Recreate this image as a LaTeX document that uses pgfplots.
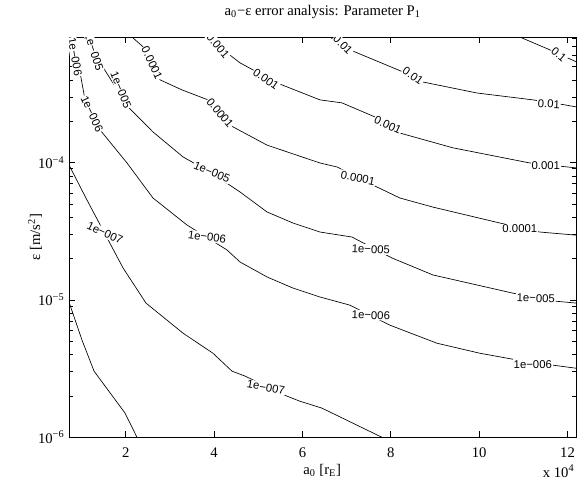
\documentclass[border=0pt]{standalone}
\usepackage{pgfplots}
\pgfplotsset{compat=1.18}
\usepackage{fontspec}
\setmainfont{Liberation Serif}
\newfontfamily\lblfont{Liberation Sans}
\tikzset{lbl/.style={font=\lblfont\fontsize{8.5}{9}\selectfont, fill=white, inner sep=0.6pt}}
\begin{document}
\begin{tikzpicture}
\useasboundingbox (-51.75pt,-33pt) rectangle (383.75pt,327.75pt);
\begin{axis}[
  at={(0,0)}, anchor=south west,
  scale only axis, width=380.25pt, height=300pt,
  xmin=0.717, xmax=12.2, ymin=1e-6, ymax=8.2e-4,
  ymode=log,
  xtick={2,4,6,8,10,12}, xticklabels={2,4,6,8,10,12},
  ytick={1e-6,1e-5,1e-4},
  yticklabels={10\textsuperscript{−6},10\textsuperscript{−5},10\textsuperscript{−4}},
  minor ytick={2e-6,3e-6,4e-6,5e-6,6e-6,7e-6,8e-6,9e-6,2e-5,3e-5,4e-5,5e-5,6e-5,7e-5,8e-5,9e-5,2e-4,3e-4,4e-4,5e-4,6e-4,7e-4,8e-4},
  tick align=inside,
  major tick length=4.5pt, minor tick length=3pt,
  axis line style={line width=0.6pt},
  every tick/.style={black, line width=0.5pt},
  tick label style={font=\fontsize{11}{13}\selectfont},
  xticklabel style={yshift=-4.5pt},
  xlabel={a\textsubscript{0} [r\textsubscript{E}]},
  xlabel style={font=\fontsize{11}{13}\selectfont, at={(axis description cs:0.499,-0.083)}, anchor=center},
  ylabel={ε [m/s\textsuperscript{2}]},
  ylabel style={font=\fontsize{11}{13}\selectfont, at={(axis description cs:-0.067,0.5)}, anchor=center},
  every axis title shift=0pt,
  title={a\textsubscript{0}−ε error analysis: Parameter P\textsubscript{1}},
  title style={font=\fontsize{11}{13}\selectfont, at={(axis description cs:0.5,1.062)}, anchor=center},
  extra description/.code={\node[font=\fontsize{11}{13}\selectfont, anchor=center] at (0.965,-0.085) {x 10\textsuperscript{4}};},
]
% 1e-8 (unlabelled)
\addplot[black, line width=0.5pt] coordinates {(0.717,9.64e-6) (1.011,5.09e-6) (1.283,3.03e-6) (1.984,1.50e-6) (2.255,1e-6)};
% 1e-7
\addplot[black, line width=0.5pt] coordinates {(0.717,9.59e-5) (1.124,5.33e-5) (1.939,1.71e-5) (2.459,9.48e-6) (3.296,5.73e-6) (3.975,4.09e-6) (4.405,3.03e-6) (4.699,2.79e-6) (5.604,2.02e-6) (5.943,1.83e-6) (6.441,1.63e-6) (7.798,1e-6)};
% 1e-6
\addplot[black, line width=0.5pt] coordinates {(0.807,8.2e-4) (0.988,4.14e-4) (1.079,2.86e-4) (1.418,1.73e-4) (2.029,9.93e-5) (2.617,5.52e-5) (3.387,3.51e-5) (4.292,2.31e-5) (4.586,1.89e-5) (5.197,1.47e-5) (5.785,1.22e-5) (6.396,1.05e-5) (7.074,9.16e-6) (7.979,6.55e-6) (9.043,4.84e-6) (10.016,4.09e-6) (10.762,3.70e-6) (11.667,3.35e-6) (12.2,3.18e-6)};
% 1e-5
\addplot[black, line width=0.5pt] coordinates {(1.056,8.2e-4) (2.052,2.54e-4) (2.617,1.67e-4) (3.296,1.10e-4) (3.975,8.26e-5) (4.586,6.11e-5) (5.197,4.37e-5) (5.785,3.63e-5) (6.396,3.12e-5) (7.120,2.87e-5) (8.025,2.02e-5) (8.952,1.52e-5) (10.762,1.12e-5) (11.712,9.80e-6) (12.2,9.48e-6)};
% 1e-4
\addplot[black, line width=0.5pt] coordinates {(2.142,8.2e-4) (2.391,6.97e-4) (2.776,4.00e-4) (3.274,3.38e-4) (3.862,2.86e-4) (4.427,1.82e-4) (5.197,1.34e-4) (6.396,9.93e-5) (6.780,9.29e-5) (7.685,6.64e-5) (8.206,5.52e-5) (8.952,4.74e-5) (10.468,3.63e-5) (11.373,3.12e-5) (12.2,2.96e-5)};
% 1e-3
\addplot[black, line width=0.5pt] coordinates {(3.862,8.2e-4) (4.292,6.30e-4) (4.586,5.32e-4) (5.423,3.80e-4) (6.396,2.86e-4) (6.893,2.72e-4) (7.640,2.15e-4) (8.206,1.64e-4) (9.405,1.28e-4) (11.147,9.93e-5) (12.2,9.14e-5)};
% 1e-2
\addplot[black, line width=0.5pt] coordinates {(6.622,8.2e-4) (7.074,6.62e-4) (8.274,4.57e-4) (8.726,3.86e-4) (9.948,3.21e-4) (11.215,2.86e-4) (11.939,2.63e-4) (12.2,2.54e-4)};
% 1e-1
\addplot[black, line width=0.5pt] coordinates {(10.921,8.2e-4) (11.599,6.62e-4) (12.2,5.41e-4)};
% labels
\node[lbl, rotate=-25] at (axis cs:1.531,3.07e-5) {1e−007};
\node[lbl, rotate=-10] at (axis cs:5.174,2.31e-6) {1e−007};
\node[lbl, rotate=-80] at (axis cs:0.853,5.89e-4) {1e−006};
\node[lbl, rotate=-65] at (axis cs:1.237,2.26e-4) {1e−006};
\node[lbl, rotate=-8] at (axis cs:3.839,2.87e-5) {1e−006};
\node[lbl, rotate=-2] at (axis cs:7.550,7.75e-6) {1e−006};
\node[lbl, rotate=0] at (axis cs:11.215,3.40e-6) {1e−006};
\node[lbl, rotate=-72] at (axis cs:1.283,6.40e-4) {1e−005};
\node[lbl, rotate=-68] at (axis cs:1.893,3.38e-4) {1e−005};
\node[lbl, rotate=-23] at (axis cs:3.952,8.53e-5) {1e−005};
\node[lbl, rotate=-3] at (axis cs:7.550,2.34e-5) {1e−005};
\node[lbl, rotate=-2] at (axis cs:11.283,1.03e-5) {1e−005};
\node[lbl, rotate=-65] at (axis cs:2.595,5.32e-4) {0.0001};
\node[lbl, rotate=-50] at (axis cs:4.133,2.30e-4) {0.0001};
\node[lbl, rotate=-12] at (axis cs:7.255,7.73e-5) {0.0001};
\node[lbl, rotate=0] at (axis cs:10.921,3.28e-5) {0.0001};
\node[lbl, rotate=-50] at (axis cs:4.088,7.08e-4) {0.001};
\node[lbl, rotate=-35] at (axis cs:5.174,4.06e-4) {0.001};
\node[lbl, rotate=-25] at (axis cs:7.934,1.88e-4) {0.001};
\node[lbl, rotate=0] at (axis cs:11.509,9.44e-5) {0.001};
\node[lbl, rotate=-45] at (axis cs:6.916,7.19e-4) {0.01};
\node[lbl, rotate=-35] at (axis cs:8.500,4.28e-4) {0.01};
\node[lbl, rotate=-3] at (axis cs:11.577,2.67e-4) {0.01};
\node[lbl, rotate=-40] at (axis cs:11.803,6.08e-4) {0.1};
\end{axis}
\end{tikzpicture}
\end{document}
